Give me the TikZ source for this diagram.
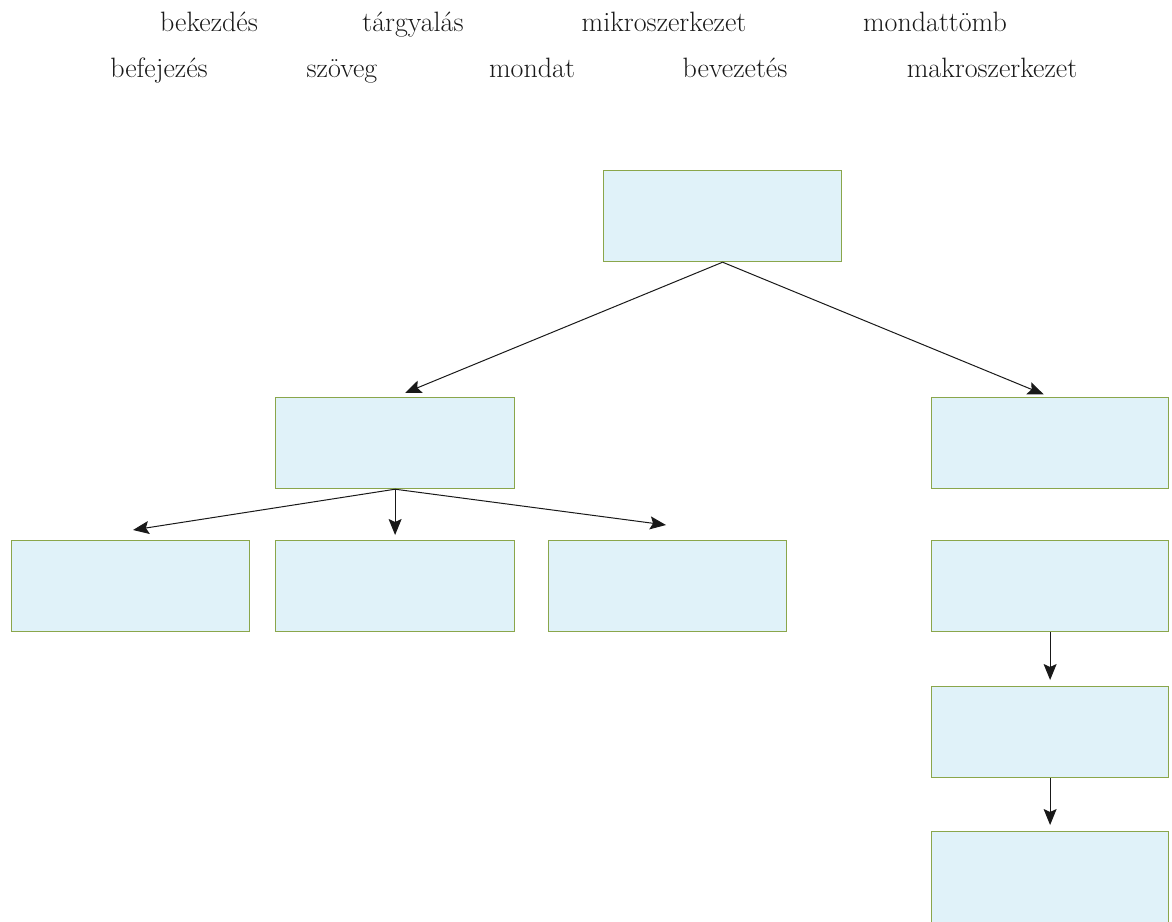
\documentclass[tikz,border=0pt]{standalone}
\usetikzlibrary{arrows.meta}
\definecolor{boxfill}{HTML}{E0F2F9}
\definecolor{boxline}{HTML}{8AA64B}
\begin{document}
\begin{tikzpicture}[x=1pt,y=-1pt,
  box/.style={draw=boxline,fill=boxfill,line width=1.2pt,minimum width=238pt,minimum height=91pt,inner sep=0pt,anchor=north west},
  word/.style={font=\fontsize{28}{32}\selectfont,anchor=base,inner sep=0pt,text=black!90},
  arr/.style={line width=1pt,draw=black!90,-{Stealth[length=16pt,width=13pt,inset=3pt]}}]
\useasboundingbox (0,0) rectangle (1172,921);
% words
\node[word] (w1) at (209,31) {bekezdés};
\node[word] (w2) at (413,31) {tárgyalás};
\node[word] (w3) at (664,31) {mikroszerkezet};
\node[word] (w4) at (935,31) {mondattömb};
\node[word] (w5) at (159,77) {befejezés};
\node[word] (w6) at (342,77) {szöveg};
\node[word] (w7) at (532,77) {mondat};
\node[word] (w8) at (735,77) {bevezetés};
\node[word] (w9) at (992,77) {makroszerkezet};
% boxes
\node[box] (top) at (603,170) {};
\node[box,minimum width=239pt] (b) at (275,397) {};
\node[box,minimum width=237pt] (c) at (931,397) {};
\node[box] (l1) at (11,540) {};
\node[box,minimum width=239pt] (l2) at (275,540) {};
\node[box] (l3) at (548,540) {};
\node[box,minimum width=237pt] (r1) at (931,540) {};
\node[box,minimum width=237pt] (r2) at (931,686) {};
\node[box,minimum width=237pt,minimum height=100pt] (r3) at (931,831) {};
% arrow ends
\coordinate (e1) at (133,530);
\coordinate (e3) at (666,525);
% arrows
\draw[arr,shorten >=11pt] (top.south) -- (b.north);
\draw[arr,shorten >=7pt] (top.south) -- (c.north);
\draw[arr] (b.south) -- (e1);
\draw[arr,shorten >=5pt] (b.south) -- (l2.north);
\draw[arr] (b.south) -- (e3);
\draw[arr,shorten >=6pt] (r1.south) -- (r2.north);
\draw[arr,shorten >=6pt] (r2.south) -- (r3.north);
\end{tikzpicture}
\end{document}
